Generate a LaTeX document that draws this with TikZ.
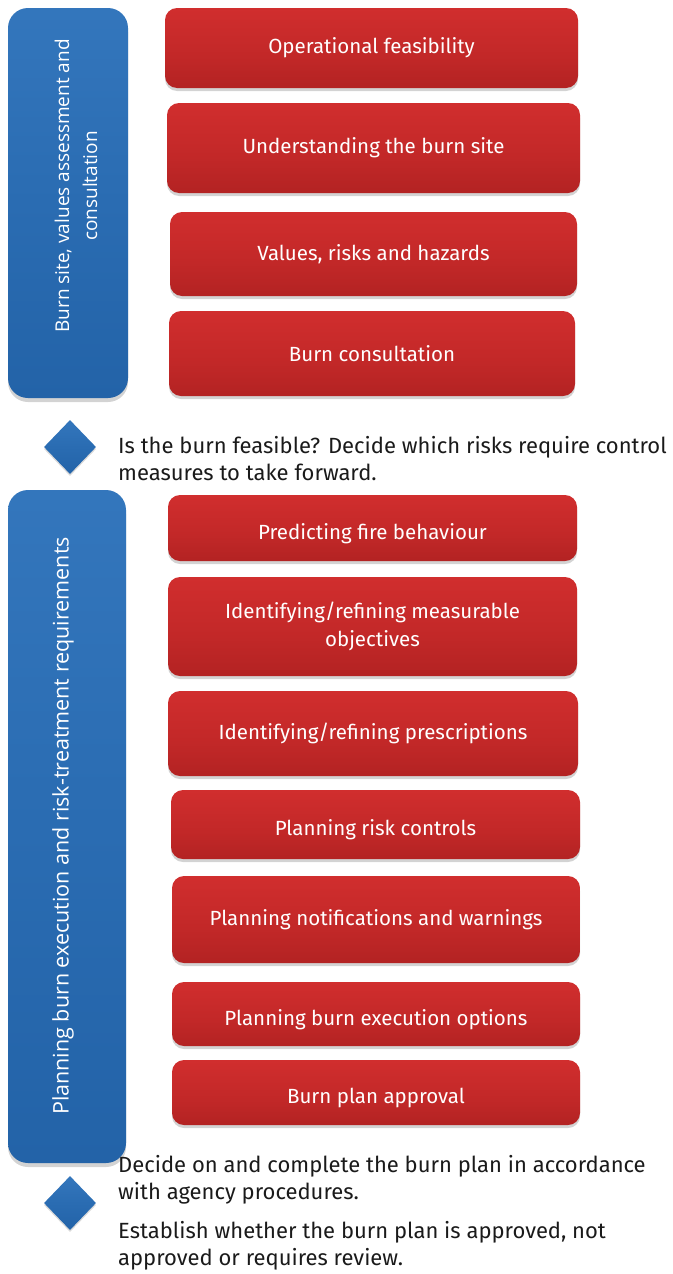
\documentclass[tikz,border=0pt]{standalone}
\usepackage{fontspec}
\setmainfont{Fira Sans}
\newfontfamily\phasefont{Open Sans}
\usepackage{tikz}
\usetikzlibrary{shapes.geometric,shadows}

% glossy fills for the boxes
\definecolor{rbot}{HTML}{A01C1C}
\definecolor{rmid}{HTML}{C22828}
\definecolor{rtop}{HTML}{D63030}
\definecolor{rhi}{HTML}{E86262}
\definecolor{bbot}{HTML}{1C5A9E}
\definecolor{bmid}{HTML}{2A6CB2}
\definecolor{btop}{HTML}{3A7DC3}
\definecolor{bhi}{HTML}{78AADD}
\definecolor{ink}{HTML}{1A1A1A}

\pgfdeclareverticalshading{redgloss}{100bp}{color(0bp)=(rbot); color(45bp)=(rmid); color(86bp)=(rtop); color(94bp)=(rhi); color(100bp)=(rtop)}
\pgfdeclareverticalshading{bluegloss}{100bp}{color(0bp)=(bbot); color(50bp)=(bmid); color(92bp)=(btop); color(97bp)=(bhi); color(100bp)=(btop)}

\tikzset{
  task/.style={rectangle, rounded corners=12pt, shading=redgloss,
    text=white, align=center, font=\fontsize{20.5}{28}\selectfont,
    drop shadow={shadow xshift=0pt, shadow yshift=-3pt, opacity=.35}},
  lowtext/.style={text height=27pt},
  phase/.style={rectangle, rounded corners=20pt, shading=bluegloss,
    drop shadow={shadow xshift=0pt, shadow yshift=-4pt, opacity=.35}},
  phaselabel/.style={rotate=90, text=white, align=center,
    font=\phasefont\fontsize{19}{28}\selectfont},
  gate/.style={diamond, shading=bluegloss, minimum width=52pt, minimum height=54pt,
    inner sep=0pt, drop shadow={shadow xshift=0pt, shadow yshift=-2pt, opacity=.3}},
  note/.style={anchor=base west, align=left, text=ink, inner sep=0pt,
    font=\fontsize{22}{27}\selectfont},
}

\begin{document}
\begin{tikzpicture}[x=1pt, y=-1pt]
  \useasboundingbox (0,0) rectangle (672,1274);

  % first stage
  \node[phase, minimum width=120pt, minimum height=390pt] (site) at (68,203) {};
  \node[phaselabel] (sitelabel) at (76,186) {Burn site, values assessment and\\consultation};

  \node[task, minimum width=413pt, minimum height=80pt] (opfeas) at (371.5,48) {Operational feasibility};
  \node[task, minimum width=413pt, minimum height=90pt] (understand) at (373.5,148) {Understanding the burn site};
  \node[task, minimum width=407pt, minimum height=84pt] (values) at (373.5,254) {Values, risks and hazards};
  \node[task, minimum width=406pt, minimum height=85pt] (consult) at (372,353.5) {Burn consultation};

  \node[gate] (feasible) at (70,447) {};
  \node[note] (feasnote) at (118,480) {Is the burn feasible? Decide which risks require control\\measures to take forward.};

  % second stage
  \node[phase, minimum width=118pt, minimum height=673pt] (plan) at (67,826.5) {};
  \node[phaselabel, font=\phasefont\fontsize{21.5}{28}\selectfont] (planlabel) at (63,826) {Planning burn execution and risk-treatment requirements};

  \node[task, lowtext, minimum width=409pt, minimum height=66pt] (predict) at (372.5,528) {Predicting fire behaviour};
  \node[task, minimum width=409pt, minimum height=99pt] (objectives) at (372.5,626.5) {Identifying/refining measurable\\objectives};
  \node[task, minimum width=410pt, minimum height=85pt] (prescribe) at (373,733.5) {Identifying/refining prescriptions};
  \node[task, lowtext, minimum width=409pt, minimum height=69pt] (controls) at (375.5,824.5) {Planning risk controls};
  \node[task, minimum width=408pt, minimum height=87pt] (warnings) at (376,919.5) {Planning notifications and warnings};
  \node[task, lowtext, minimum width=408pt, minimum height=64pt] (execution) at (376,1014) {Planning burn execution options};
  \node[task, lowtext, minimum width=408pt, minimum height=65pt] (approval) at (376,1092.5) {Burn plan approval};

  \node[gate] (approved) at (70,1203) {};
  \node[note] (decidenote) at (118,1199) {Decide on and complete the burn plan in accordance\\with agency procedures.};
  \node[note] (approvenote) at (118,1265) {Establish whether the burn plan is approved, not\\approved or requires review.};
\end{tikzpicture}
\end{document}
